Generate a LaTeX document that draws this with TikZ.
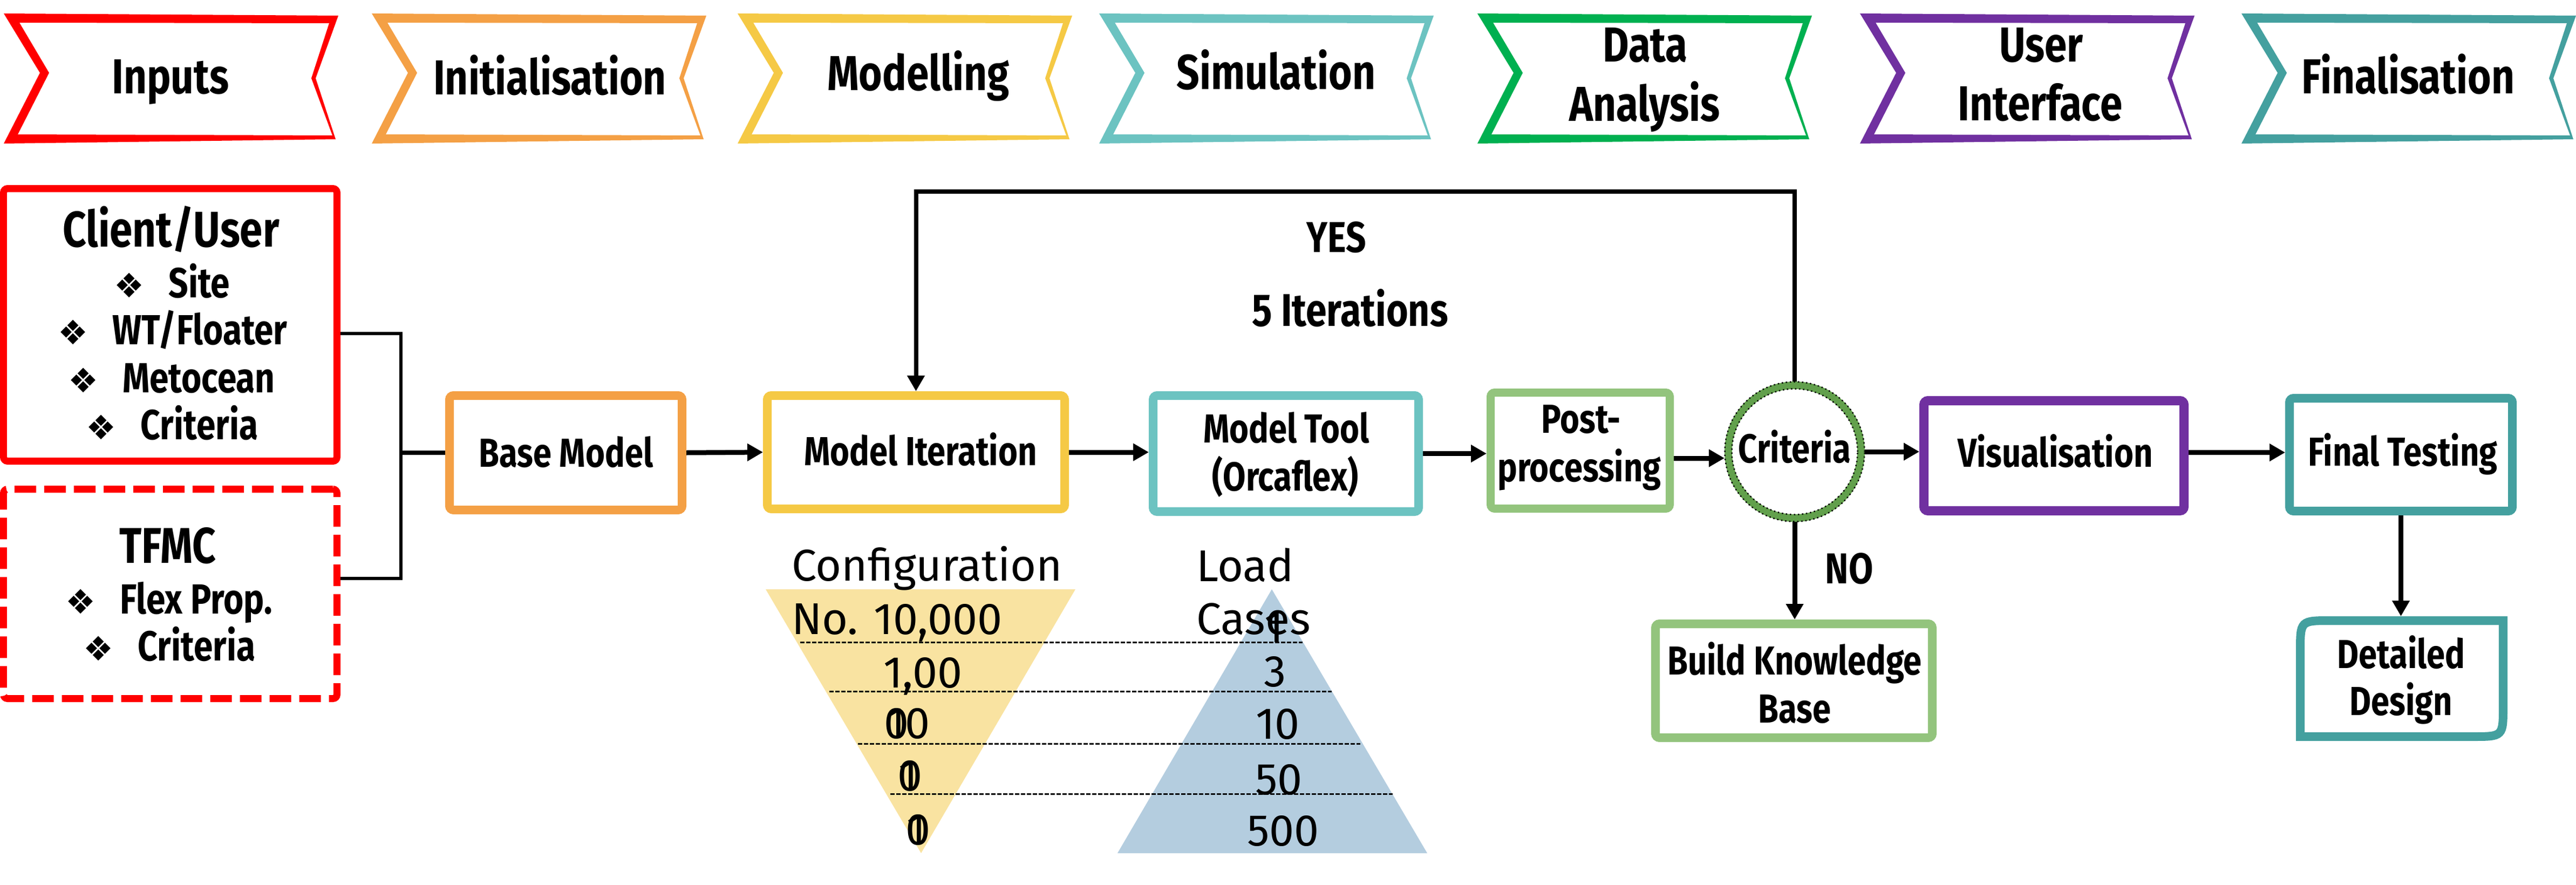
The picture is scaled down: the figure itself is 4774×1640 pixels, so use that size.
\documentclass[tikz,border=0pt]{standalone}
\usepackage{fontspec}
\setmainfont{Fira Sans}
\newfontfamily\bfc{Fira Sans}[FakeStretch=0.82]
\newfontfamily\dej{DejaVu Sans}
\usetikzlibrary{arrows.meta}
\definecolor{cred}{HTML}{FF0000}
\definecolor{corange}{HTML}{F4A045}
\definecolor{cyellow}{HTML}{F5C945}
\definecolor{cteal}{HTML}{6CC3C1}
\definecolor{cgreenD}{HTML}{00B050}
\definecolor{cpurple}{HTML}{7030A0}
\definecolor{cteal2}{HTML}{44A09F}
\definecolor{cgreenL}{HTML}{93C47D}
\definecolor{cring}{HTML}{62A04C}
\definecolor{ctriY}{HTML}{F9E3A1}
\definecolor{ctriB}{HTML}{B4CDDF}
\newcommand\bannershape[2]{%
  \fill[#2, even odd rule]
    (#1,25) -- ({#1+620},29) -- ({#1+578},145) -- ({#1+615},258) -- (#1,266) -- ({#1+67},135) -- cycle
    ({#1+29},42) -- ({#1+603},43) -- ({#1+570},145) -- ({#1+609},251) -- ({#1+26},249) -- ({#1+84},135) -- cycle;}
\newcommand\dia{{\dej\fontsize{12.5}{12.5}\selectfont ❖}\hspace{9pt}}
\tikzset{
  bt/.style={font=\bfc\bfseries\fontsize{18.2}{20}\selectfont, anchor=base, inner sep=0pt},
  ht/.style={font=\bfc\bfseries\fontsize{18.6}{20}\selectfont, anchor=base, inner sep=0pt},
  it/.style={font=\bfc\bfseries\fontsize{15.6}{18}\selectfont, anchor=base, inner sep=0pt},
  xt/.style={font=\bfc\bfseries\fontsize{15}{18}\selectfont, anchor=base, inner sep=0pt},
  lt/.style={font=\bfc\bfseries\fontsize{16}{18}\selectfont, anchor=base, inner sep=0pt},
  rt/.style={font=\fontsize{16.5}{18}\selectfont, anchor=base, inner sep=0pt},
  box/.style={draw=#1, rounded corners=1.5pt, inner sep=0pt},
  arr/.style={line width=1.8pt, -{Triangle[length=5.8pt,width=6.2pt]}},
}
\begin{document}
\begin{tikzpicture}[x=0.2pt,y=-0.2pt]
\useasboundingbox (0,0) rectangle (4774,1640);
% banners
\bannershape{7}{cred}
\bannershape{689}{corange}
\bannershape{1367}{cyellow}
\bannershape{2037}{cteal}
\bannershape{2738}{cgreenD}
\bannershape{3447}{cpurple}
\bannershape{4154}{cteal2}
\node[bt] (tinputs) at (316,173) {Inputs};
\node[bt] (tinit) at (1019,176) {Initialisation};
\node[bt] (tmodel) at (1702,168) {Modelling};
\node[bt] (tsim) at (2365,165) {Simulation};
\node[bt] (tdata) at (3049,114) {Data};
\node[bt] (tanal) at (3048,224) {Analysis};
\node[bt] (tuser) at (3783,114) {User};
\node[bt] (tinter) at (3781,223) {Interface};
\node[bt] (tfinal) at (4463,173) {Finalisation};
% input boxes
\node[box=cred, line width=2.6pt, minimum width=123.6pt, minimum height=101pt] (client) at (315.5,602) {};
\node[box=cred, line width=2.6pt, dash pattern=on 8pt off 3pt, minimum width=123.6pt, minimum height=77.6pt] (tfmc) at (315.5,1100.5) {};
\node[ht] (tclient) at (317,457) {Client/User};
\node[it] (c1) at (319,551) {\dia Site};
\node[it] (c2) at (320,638) {\dia WT/Floater};
\node[it] (c3) at (318,727) {\dia Metocean};
\node[it] (c4) at (319,814) {\dia Criteria};
\node[ht] (ttfmc) at (311,1043) {TFMC};
\node[it] (f1) at (313,1137) {\dia Flex Prop.};
\node[it] (f2) at (314,1224) {\dia Criteria};
% process boxes
\node[box=corange, line width=3.2pt, minimum width=86.2pt, minimum height=42.4pt] (base) at (1048.5,839) {};
\node[box=cyellow, line width=3.2pt, minimum width=110.2pt, minimum height=42pt] (iter) at (1697.5,838) {};
\node[box=cteal, line width=3.2pt, minimum width=98.4pt, minimum height=43pt] (tool) at (2383,840.5) {};
\node[box=cgreenL, line width=3pt, minimum width=66.4pt, minimum height=43pt] (post) at (2928.5,835) {};
\node[circle, draw=cring, line width=2.8pt, minimum size=49.2pt, inner sep=0pt] (crit) at (3326,837) {};
\draw[densely dotted, line width=0.5pt] (crit.center) circle[radius=25.9pt];
\draw[densely dotted, line width=0.5pt] (crit.center) circle[radius=23.3pt];
\node[box=cpurple, line width=3.4pt, minimum width=96.4pt, minimum height=40.8pt] (vis) at (3806.5,844.5) {};
\node[box=cteal2, line width=3.2pt, minimum width=82.6pt, minimum height=41.8pt] (final) at (4449.5,842.5) {};
\node[box=cgreenL, line width=3.2pt, minimum width=102.6pt, minimum height=42.2pt] (bkb) at (3324.5,1261.5) {};
\node[inner sep=0pt, outer sep=0pt, minimum width=78.4pt, minimum height=46.2pt] (detail) at (4451,1257.5) {};
\draw[cteal2, line width=3.2pt] (4263,1365) -- (4263,1207) .. controls (4263,1150) .. (4320,1150) -- (4639,1150) -- (4639,1308) .. controls (4639,1365) .. (4582,1365) -- cycle;
% box texts
\node[xt] (tbase) at (1049,865) {Base Model};
\node[xt] (titer) at (1706,862) {Model Iteration};
\node[xt] (ttool1) at (2384,820) {Model Tool};
\node[xt] (ttool2) at (2382,909) {(Orcaflex)};
\node[xt] (tpost1) at (2930,802) {Post-};
\node[xt] (tpost2) at (2927,892) {processing};
\node[xt] (tcrit) at (3326,857) {Criteria};
\node[xt] (tvis) at (3809,865) {Visualisation};
\node[xt] (tfin) at (4453,863) {Final Testing};
\node[xt] (tbkb1) at (3326,1250) {Build Knowledge};
\node[xt] (tbkb2) at (3326,1339) {Base};
\node[xt] (tdet1) at (4450,1238) {Detailed};
\node[xt] (tdet2) at (4450,1325) {Design};
\node[lt] (tyes) at (2477,467) {YES};
\node[bt, font=\bfc\bfseries\fontsize{17}{18}\selectfont] (titer5) at (2502,604) {5 Iterations};
\node[lt] (tno) at (3427,1081) {NO};
% connectors
\coordinate (bx) at (743,0);
\coordinate (loopy) at (0,355);
\draw[line width=1.2pt] ([yshift=-3.2pt]client.east) -- ([yshift=-3.2pt]client.east -| bx) -- ([yshift=5.7pt]tfmc.east -| bx) -- ([yshift=5.7pt]tfmc.east);
\draw[line width=1.6pt] (bx |- base.west) -- (base.west);
\draw[arr] (base.east) -- (iter.west);
\draw[arr] (iter.east) -- (iter.east -| tool.west);
\draw[arr] (tool.east) -- (tool.east -| post.west);
\draw[arr] ([yshift=-2.8pt]post.east) -- ([yshift=-2.8pt]post.east -| crit.west);
\draw[arr] (crit.east) -- (crit.east -| vis.west);
\draw[arr] ([yshift=1.2pt]vis.east) -- ([yshift=1.2pt]vis.east -| final.west);
\draw[arr] (crit.south) -- (crit.south |- bkb.north);
\draw[arr] (final.south) -- (final.south |- detail.north);
\draw[arr, line width=1.6pt] (crit.north) -- (crit.north |- loopy) -| (iter.north);
% triangles
\fill[ctriY] (1419,1092) -- (1993,1092) -- (1707,1581) -- cycle;
\fill[ctriB] (2357,1092) -- (2645,1581) -- (2071,1581) -- cycle;
\foreach \y/\a/\b in {1190/1483/2414, 1281/1537/2468, 1378/1590/2521, 1471/1650/2581}
  \draw[dash pattern=on 1.6pt off 0.6pt, line width=0.6pt] (\a,\y) -- (\b,\y);
\node[rt, anchor=base west] (conf1) at (1466,1076) {Configuration};
\node[rt, anchor=base west] (conf2) at (1466,1175) {No. 10,000};
\node[rt, anchor=base west] (load1) at (2216,1077) {Load};
\node[rt, anchor=base west] (load2) at (2216,1175) {Cases};
\node[rt, anchor=base west] (n100) at (1636,1274) {1,00};
\node[rt, anchor=base west] (n10a) at (1637,1368) {0};
\node[rt, anchor=base west] (n10b) at (1641,1368) {10};
\node[rt, anchor=base west] (n1a) at (1662,1465) {0};
\node[rt, anchor=base west] (n1b) at (1664,1465) {1};
\node[rt, anchor=base west] (n0a) at (1677,1565) {0};
\node[rt, anchor=base west] (n0b) at (1679,1565) {1};
\node[rt] (m1) at (2361,1190) {1};
\node[rt] (m3) at (2363,1272) {3};
\node[rt] (m10) at (2368,1369) {10};
\node[rt] (m50) at (2370,1472) {50};
\node[rt] (m500) at (2378,1567) {500};
\end{tikzpicture}
\end{document}
